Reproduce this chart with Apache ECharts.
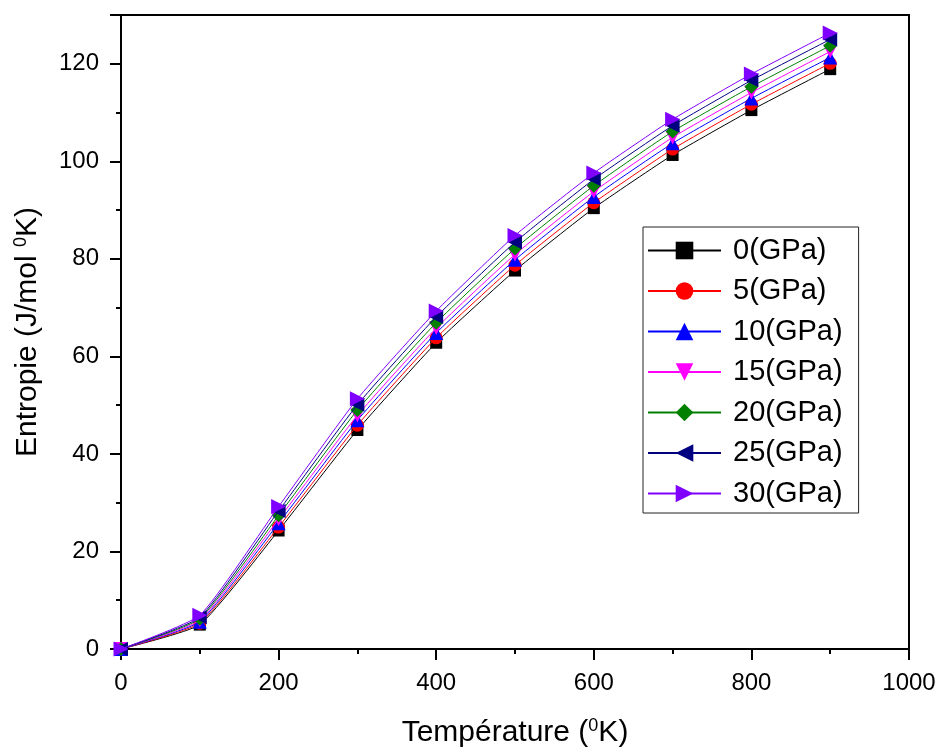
<!DOCTYPE html>
<html>
<head>
<meta charset="utf-8">
<script src="https://cdn.jsdelivr.net/npm/echarts@6/dist/echarts.min.js"></script>
<style>html,body{margin:0;padding:0;background:#fff;}#chart{width:940px;height:753px;}</style>
</head>
<body>
<div id="chart"></div>
<script>
var temperatures = [0, 100, 200, 300, 400, 500, 600, 700, 800, 900];
var seriesNames = ['0(GPa)', '5(GPa)', '10(GPa)', '15(GPa)', '20(GPa)', '25(GPa)', '30(GPa)'];
var s0  = [0, 5.0, 24.3, 44.9, 62.8, 77.6, 90.4, 101.3, 110.5, 118.9];
var s5  = [0, 5.3, 25.0, 45.9, 63.8, 78.7, 91.5, 102.5, 111.7, 120.1];
var s10 = [0, 5.6, 25.8, 46.9, 64.8, 79.8, 92.7, 103.7, 112.9, 121.3];
var s15 = [0, 5.9, 26.6, 47.9, 65.8, 80.9, 93.8, 104.9, 114.1, 122.5];
var s20 = [0, 6.2, 27.4, 49.0, 66.9, 82.1, 95.0, 106.1, 115.3, 123.7];
var s25 = [0, 6.5, 28.3, 50.1, 68.1, 83.4, 96.3, 107.3, 116.6, 125.0];
var s30 = [0, 6.9, 29.2, 51.3, 69.3, 84.8, 97.6, 108.6, 117.9, 126.3];
var allValues = [s0, s5, s10, s15, s20, s25, s30];

var colors = ['#000000', '#ff0000', '#0000ff', '#ff00ff', '#008000', '#000080', '#8000ff'];
var symbols = ['rect', 'circle', 'triangle', 'triangle', 'diamond', 'triangle', 'triangle'];
var rotates = [0, 0, 0, 180, 0, 90, -90];
var sizes = [12, 13, 14, 14, 14, 14, 15];

var font = 'Liberation Sans, Arial, sans-serif';
var chart = echarts.init(document.getElementById('chart'));

var series = seriesNames.map(function (name, i) {
  return {
    name: name,
    type: 'line',
    smooth: 0.15,
    data: temperatures.map(function (t, j) { return [t, allValues[i][j]]; }),
    symbol: symbols[i],
    symbolRotate: rotates[i],
    symbolSize: sizes[i],
    showAllSymbol: true,
    lineStyle: { color: colors[i], width: 1 },
    itemStyle: { color: colors[i] },
    z: 2 + i
  };
});

var option = {
  animation: false,
  backgroundColor: '#fff',
  grid: {
    left: 121, right: 31, top: 15, bottom: 102,
    show: true, borderColor: '#000', borderWidth: 2
  },
  legend: {
    orient: 'vertical',
    left: 643, top: 227,
    data: seriesNames,
    itemWidth: 73, itemHeight: 22, itemGap: 11.5,
    padding: [9, 16, 5, 4],
    borderColor: '#222', borderWidth: 1,
    textStyle: { fontFamily: font, fontSize: 29, color: '#000', padding: [0, 0, 0, 7] }
  },
  xAxis: {
    type: 'value',
    min: 0, max: 1000, interval: 200,
    name: 'Température ({sup|0}K)',
    nameLocation: 'middle',
    nameGap: 68,
    nameTextStyle: {
      fontFamily: font, fontSize: 30, color: '#000',
      rich: { sup: { fontFamily: font, fontSize: 18, color: '#000', padding: [0, 0, 14, 0] } }
    },
    axisLine: { show: true, lineStyle: { color: '#000', width: 2 } },
    axisTick: { show: true, inside: false, length: 11, lineStyle: { color: '#000', width: 2 } },
    minorTick: { show: true, splitNumber: 2, length: 5, lineStyle: { color: '#000', width: 2 } },
    axisLabel: {
      fontFamily: font, fontSize: 24, color: '#000', margin: 22,
      formatter: function (v) { return String(v); }
    },
    splitLine: { show: false }
  },
  yAxis: {
    type: 'value',
    min: 0, max: 130, interval: 20,
    name: 'Entropie (J/mol {sup|0}K)',
    nameLocation: 'middle',
    nameRotate: 90,
    nameGap: 77,
    nameTextStyle: {
      fontFamily: font, fontSize: 30, color: '#000',
      rich: { sup: { fontFamily: font, fontSize: 18, color: '#000', padding: [0, 0, 14, 0] } }
    },
    axisLine: { show: true, lineStyle: { color: '#000', width: 2 } },
    axisTick: { show: true, inside: false, length: 11, lineStyle: { color: '#000', width: 2 } },
    minorTick: { show: true, splitNumber: 2, length: 5, lineStyle: { color: '#000', width: 2 } },
    axisLabel: {
      fontFamily: font, fontSize: 24, color: '#000', margin: 22,
      showMaxLabel: false,
      formatter: function (v) { return v > 120 ? '' : String(v); }
    },
    splitLine: { show: false }
  },
  series: series
};
chart.setOption(option);
</script>
</body>
</html>
